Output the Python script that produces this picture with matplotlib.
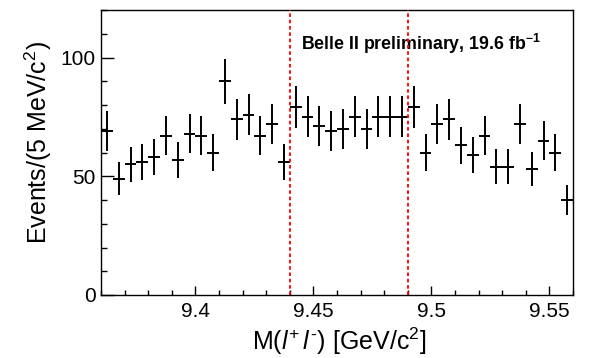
import numpy as np
import matplotlib
matplotlib.use("Agg")
import matplotlib.pyplot as plt
from matplotlib.ticker import MultipleLocator, FixedLocator

plt.rcParams['font.family'] = ['Liberation Sans', 'DejaVu Sans']
plt.rcParams['mathtext.fontset'] = 'custom'
plt.rcParams['mathtext.rm'] = 'Liberation Sans'
plt.rcParams['mathtext.it'] = 'Liberation Sans:italic'
plt.rcParams['mathtext.bf'] = 'Liberation Sans:bold'

bin_lo = 9.36
bin_width = 0.005
counts = [69, 49, 55, 56, 58, 67, 57, 68, 67, 60,
          90, 74, 76, 67, 72, 56, 79, 75, 71, 69,
          70, 75, 70, 75, 75, 75, 79, 60, 72, 74,
          63, 59, 67, 54, 54, 72, 53, 65, 60, 40]
signal_window = [9.44, 9.49]
xticks = [9.4, 9.45, 9.5, 9.55]
xtick_labels = ["9.4", "9.45", "9.5", "9.55"]
yticks = [0, 50, 100]

counts = np.array(counts, dtype=float)
centers = bin_lo + bin_width * (np.arange(len(counts)) + 0.5)
errs = np.sqrt(counts)

W, H = 593, 358
fig = plt.figure(figsize=(W/100, H/100), dpi=100)
ax = fig.add_axes([101/W, 1-295/H, 472/W, 285/H])

ax.errorbar(centers, counts, yerr=errs, xerr=bin_width/2, fmt='none',
            ecolor='black', elinewidth=1.4, capsize=0, zorder=3)
for xv in signal_window:
    ax.axvline(xv, color='red', lw=1.3, ls=(0, (2, 1.5)), zorder=4)

ax.set_xlim(bin_lo, bin_lo + bin_width*len(counts))
ax.set_ylim(0, 120)
ax.xaxis.set_major_locator(FixedLocator(xticks))
ax.set_xticklabels(xtick_labels)
ax.xaxis.set_minor_locator(MultipleLocator(0.01))
ax.yaxis.set_major_locator(FixedLocator(yticks))
ax.yaxis.set_minor_locator(MultipleLocator(10))
ax.tick_params(axis='both', which='both', direction='in', labelsize=15,
               top=False, right=False, width=1.0)
ax.tick_params(axis='y', which='major', length=9.4, pad=4)
ax.tick_params(axis='y', which='minor', length=4.6)
ax.tick_params(axis='x', which='major', length=6.5, pad=5)
ax.tick_params(axis='x', which='minor', length=3.6)
for s in ax.spines.values():
    s.set_linewidth(1.0)

fig.text(339/W, 1-350/H, r"M($l^{+}\,l^{\text{-}}$) [GeV/c$^{2}$]", fontsize=18,
         ha='center', va='baseline')
fig.text(38/W, 1-143/H, r"Events/(5 MeV/c$^{2}$)", fontsize=18,
         ha='center', va='center', rotation=90)

ax.text(9.4447, 103.2, r"Belle II preliminary, 19.6 fb$^{\mathbf{-1}}$", fontsize=12.8,
        fontweight='bold', ha='left', va='baseline', zorder=2)

fig.savefig("out.png", dpi=100)
